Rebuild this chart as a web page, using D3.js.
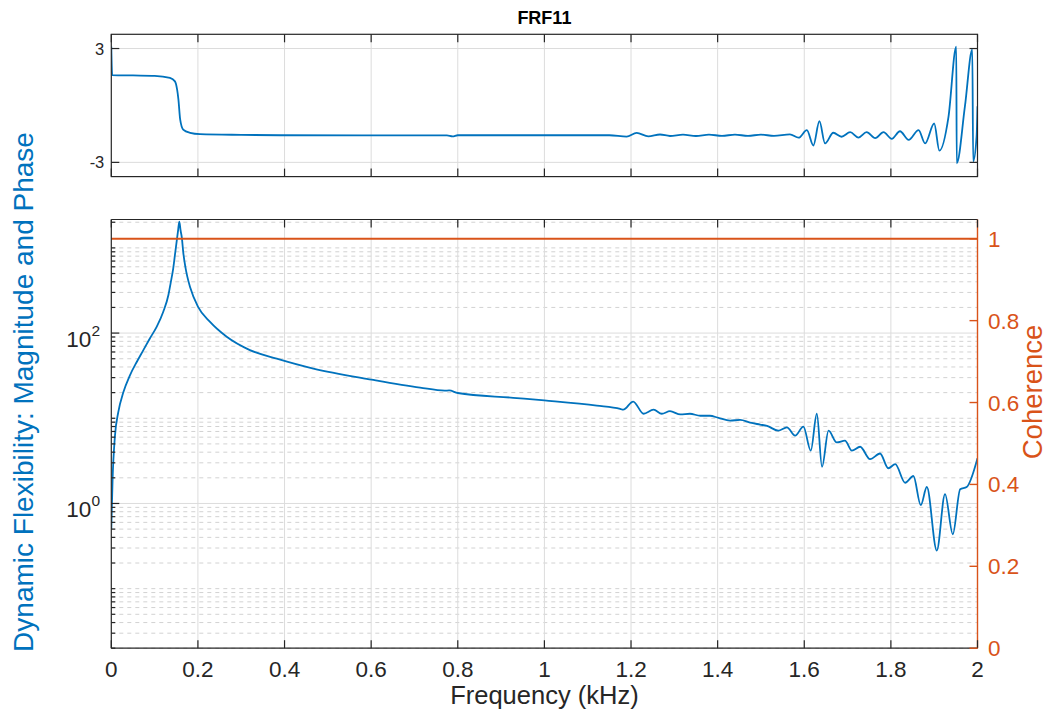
<!DOCTYPE html>
<html>
<head>
<meta charset="utf-8">
<script src="https://cdn.jsdelivr.net/npm/d3@7"></script>
<style>
  html, body { margin: 0; padding: 0; background: #fff; }
  svg { display: block; }
  text { font-family: "Liberation Sans", Arial, Helvetica, sans-serif; }
</style>
</head>
<body>
<svg id="chart" width="1049" height="719"></svg>
<script>
// ---------------- data ----------------
const titleText = "FRF11";
const xLabelText = "Frequency (kHz)";
const yLabelLeft = "Dynamic Flexibility: Magnitude and Phase";
const yLabelRight = "Coherence";

const xTicks = [0, 0.2, 0.4, 0.6, 0.8, 1, 1.2, 1.4, 1.6, 1.8, 2];
const xTickLabels = ["0", "0.2", "0.4", "0.6", "0.8", "1", "1.2", "1.4", "1.6", "1.8", "2"];
const phaseTicks = [-3, 3];
const phaseTickLabels = ["-3", "3"];
const magMajorTicks = [1, 100];
const magTickExps = ["0", "2"];
const cohTicks = [0, 0.2, 0.4, 0.6, 0.8, 1];
const cohTickLabels = ["0", "0.2", "0.4", "0.6", "0.8", "1"];

// magnitude (dynamic flexibility)
const magFreq = [0, 0.003, 0.0085, 0.016, 0.028, 0.043, 0.0587, 0.074, 0.089, 0.105, 0.12, 0.132,
  0.137, 0.143, 0.147, 0.151, 0.154, 0.157, 0.160, 0.163, 0.166, 0.171, 0.1755, 0.182, 0.2, 0.228,
  0.2665, 0.32, 0.382, 0.4665, 0.601, 0.713, 0.77, 0.78, 0.8, 0.928, 1.0, 1.121, 1.175, 1.182, 1.205,
  1.229, 1.252, 1.271, 1.29, 1.314, 1.336, 1.36, 1.382, 1.402, 1.429, 1.452, 1.475, 1.498, 1.514,
  1.54, 1.56, 1.579, 1.598, 1.615, 1.629, 1.641, 1.656, 1.675, 1.694, 1.71, 1.729, 1.752, 1.775,
  1.794, 1.81, 1.833, 1.852, 1.869, 1.883, 1.906, 1.925, 1.943, 1.96, 1.975, 2.0];
const magVals = [0.5, 1.93, 6.25, 11.7, 20.3, 31.9, 45.8, 63.1, 86.5, 119, 178, 282,
  386, 575, 832, 1200, 1570, 2030, 1600, 1300, 900, 600, 460, 345, 204, 135,
  90.4, 63.1, 50.1, 38.3, 28.4, 22.9, 21.1, 21.2, 19.8, 17.4, 16.2, 14.1, 12.9, 12.6, 15.7,
  11.3, 12.6, 11.3, 12.1, 11.1, 11.3, 10.7, 10.7, 10.1, 9.4, 9.57, 8.89, 8.43, 8.13,
  7.16, 7.83, 6.25, 7.98, 4.16, 11.3, 2.69, 7.16, 5.21, 5.46, 4.16, 4.63, 3.31, 3.86,
  2.59, 2.89, 1.75, 2.10, 0.955, 1.56, 0.28, 1.29, 0.435, 1.47, 1.56, 3.40];

// phase (rad)
const phaseFreq = [0, 0.002, 0.05, 0.1, 0.1355, 0.147, 0.152, 0.155, 0.159, 0.166, 0.182, 0.205,
  0.3, 0.39, 0.6, 0.775, 0.788, 0.80, 1.0, 1.15, 1.19, 1.213, 1.24, 1.267, 1.29, 1.32, 1.35, 1.38,
  1.41, 1.44, 1.47, 1.50, 1.53, 1.567, 1.587, 1.606, 1.621, 1.635, 1.648, 1.667, 1.686, 1.706,
  1.725, 1.744, 1.764, 1.783, 1.802, 1.821, 1.841, 1.864, 1.879, 1.900, 1.912, 1.933, 1.951,
  1.952, 1.971, 1.988, 1.990, 1.998, 2.0];
const phaseVals = [3.1, 1.6, 1.58, 1.56, 1.45, 1.27, 0.83, 0.31, -0.74, -1.27, -1.44, -1.51,
  -1.55, -1.57, -1.58, -1.58, -1.63, -1.57, -1.57, -1.57, -1.64, -1.45, -1.63, -1.53, -1.61, -1.54, -1.61, -1.54,
  -1.60, -1.54, -1.60, -1.54, -1.60, -1.52, -1.70, -1.30, -2.11, -0.83, -2.0, -1.44, -1.65, -1.41,
  -1.70, -1.41, -1.72, -1.41, -1.76, -1.36, -1.81, -1.30, -2.0, -0.95, -2.38, -0.6, 3.1,
  -3.05, -0.04, 2.95, -2.95, -1.6, -0.04];

// coherence
const cohFreq = [0, 2];
const cohVals = [1, 1];

// ---------------- layout ----------------
const C_AX = "#262626", C_BLUE = "#0072BD", C_ORANGE = "#D95319";
const C_GRID = "#dcdcdc", C_MINOR = "#d2d2d2";
const X0 = 111.3, X1 = 977.5;
const topP = { y0: 34.3, y1: 176.6 };
const botP = { y0: 219.5, y1: 648.2 };
const TICK = 8, MINOR_TICK = 4;

const svg = d3.select("#chart");
const x = d3.scaleLinear().domain([0, 2]).range([X0, X1]);
const yPh = d3.scaleLinear().domain([-3.75, 3.75]).range([topP.y1, topP.y0]);
const yMag = d3.scaleLog().domain([0.02, 2154]).range([botP.y1, botP.y0]);
const yCoh = d3.scaleLinear().domain([0, 1.047]).range([botP.y1, botP.y0]);

// ---------- top panel (phase) ----------
const gT = svg.append("g");
gT.selectAll(".vg").data(xTicks.slice(1, -1)).join("line")
  .attr("x1", d => x(d)).attr("x2", d => x(d)).attr("y1", topP.y0).attr("y2", topP.y1)
  .attr("stroke", C_GRID).attr("stroke-width", 1);
gT.selectAll(".hg").data(phaseTicks).join("line")
  .attr("x1", X0).attr("x2", X1).attr("y1", d => yPh(d)).attr("y2", d => yPh(d))
  .attr("stroke", C_GRID).attr("stroke-width", 1);

svg.append("clipPath").attr("id", "clipT").append("rect")
  .attr("x", X0).attr("y", topP.y0).attr("width", X1 - X0).attr("height", topP.y1 - topP.y0);
gT.append("path")
  .datum(phaseFreq.map((f, i) => [f, phaseVals[i]]))
  .attr("clip-path", "url(#clipT)")
  .attr("fill", "none").attr("stroke", C_BLUE).attr("stroke-width", 1.8)
  .attr("stroke-linejoin", "round")
  .attr("d", d3.line().x(d => x(d[0])).y(d => yPh(d[1])).curve(d3.curveMonotoneX));

gT.append("rect").attr("x", X0).attr("y", topP.y0).attr("width", X1 - X0).attr("height", topP.y1 - topP.y0)
  .attr("fill", "none").attr("stroke", C_AX).attr("stroke-width", 1.2);
xTicks.forEach(t => {
  gT.append("line").attr("x1", x(t)).attr("x2", x(t)).attr("y1", topP.y1).attr("y2", topP.y1 - TICK).attr("stroke", C_AX).attr("stroke-width", 1.2);
  gT.append("line").attr("x1", x(t)).attr("x2", x(t)).attr("y1", topP.y0).attr("y2", topP.y0 + TICK).attr("stroke", C_AX).attr("stroke-width", 1.2);
});
phaseTicks.forEach((t, i) => {
  gT.append("line").attr("x1", X0).attr("x2", X0 + TICK).attr("y1", yPh(t)).attr("y2", yPh(t)).attr("stroke", C_AX).attr("stroke-width", 1.2);
  gT.append("line").attr("x1", X1).attr("x2", X1 - TICK).attr("y1", yPh(t)).attr("y2", yPh(t)).attr("stroke", C_AX).attr("stroke-width", 1.2);
  gT.append("text").attr("x", X0 - 7).attr("y", yPh(t) + 6)
    .attr("text-anchor", "end").attr("font-size", 16.5).attr("fill", C_AX).text(phaseTickLabels[i]);
});

svg.append("text").attr("x", (X0 + X1) / 2).attr("y", 24)
  .attr("text-anchor", "middle").attr("font-size", 18).attr("font-weight", "bold").attr("fill", "#000")
  .text(titleText);

// ---------- bottom panel (magnitude + coherence) ----------
const gB = svg.append("g");
const minorVals = [];
for (let e = -2; e <= 3; e++) {
  for (let m = 1; m <= 9; m++) {
    const v = m * Math.pow(10, e);
    if (v >= 0.02 && v <= 2154 && !magMajorTicks.includes(v)) minorVals.push(v);
  }
}
gB.selectAll(".mg").data(minorVals).join("line")
  .attr("x1", X0).attr("x2", X1).attr("y1", d => yMag(d)).attr("y2", d => yMag(d))
  .attr("stroke", C_MINOR).attr("stroke-width", 1).attr("stroke-dasharray", "4,4");
gB.selectAll(".vg").data(xTicks.slice(1, -1)).join("line")
  .attr("x1", d => x(d)).attr("x2", d => x(d)).attr("y1", botP.y0).attr("y2", botP.y1)
  .attr("stroke", C_GRID).attr("stroke-width", 1);
gB.selectAll(".hg").data(magMajorTicks).join("line")
  .attr("x1", X0).attr("x2", X1).attr("y1", d => yMag(d)).attr("y2", d => yMag(d))
  .attr("stroke", C_GRID).attr("stroke-width", 1);

svg.append("clipPath").attr("id", "clipB").append("rect")
  .attr("x", X0).attr("y", botP.y0).attr("width", X1 - X0).attr("height", botP.y1 - botP.y0);
gB.append("path")
  .datum(magFreq.map((f, i) => [f, magVals[i]]))
  .attr("clip-path", "url(#clipB)")
  .attr("fill", "none").attr("stroke", C_BLUE).attr("stroke-width", 1.8)
  .attr("stroke-linejoin", "round")
  .attr("d", d3.line().x(d => x(d[0])).y(d => yMag(d[1])).curve(d3.curveMonotoneX));

gB.append("path")
  .datum(cohFreq.map((f, i) => [f, cohVals[i]]))
  .attr("fill", "none").attr("stroke", C_ORANGE).attr("stroke-width", 1.8)
  .attr("d", d3.line().x(d => x(d[0])).y(d => yCoh(d[1])));

gB.append("line").attr("x1", X0).attr("x2", X1).attr("y1", botP.y0).attr("y2", botP.y0).attr("stroke", C_AX).attr("stroke-width", 1.2);
gB.append("line").attr("x1", X0).attr("x2", X1).attr("y1", botP.y1).attr("y2", botP.y1).attr("stroke", C_AX).attr("stroke-width", 1.2);
gB.append("line").attr("x1", X0).attr("x2", X0).attr("y1", botP.y0).attr("y2", botP.y1).attr("stroke", C_AX).attr("stroke-width", 1.2);
gB.append("line").attr("x1", X1).attr("x2", X1).attr("y1", botP.y0).attr("y2", botP.y1).attr("stroke", C_ORANGE).attr("stroke-width", 1.4);

xTicks.forEach((t, i) => {
  gB.append("line").attr("x1", x(t)).attr("x2", x(t)).attr("y1", botP.y1).attr("y2", botP.y1 - TICK).attr("stroke", C_AX).attr("stroke-width", 1.2);
  gB.append("line").attr("x1", x(t)).attr("x2", x(t)).attr("y1", botP.y0).attr("y2", botP.y0 + TICK).attr("stroke", C_AX).attr("stroke-width", 1.2);
  gB.append("text").attr("x", x(t)).attr("y", 677)
    .attr("text-anchor", "middle").attr("font-size", 22.5).attr("fill", C_AX).text(xTickLabels[i]);
});

minorVals.forEach(v => {
  gB.append("line").attr("x1", X0).attr("x2", X0 + MINOR_TICK).attr("y1", yMag(v)).attr("y2", yMag(v)).attr("stroke", C_AX).attr("stroke-width", 1.2);
});
magMajorTicks.forEach((v, i) => {
  gB.append("line").attr("x1", X0).attr("x2", X0 + TICK).attr("y1", yMag(v)).attr("y2", yMag(v)).attr("stroke", C_AX).attr("stroke-width", 1.2);
  const t = gB.append("text").attr("x", 100).attr("y", yMag(v) + 13.5)
    .attr("text-anchor", "end").attr("font-size", 22.5).attr("fill", C_AX);
  t.append("tspan").text("10");
  t.append("tspan").attr("dy", -11).attr("font-size", 15.5).text(magTickExps[i]);
});

cohTicks.forEach((v, i) => {
  gB.append("line").attr("x1", X1).attr("x2", X1 - TICK).attr("y1", yCoh(v)).attr("y2", yCoh(v)).attr("stroke", C_ORANGE).attr("stroke-width", 1.4);
  gB.append("text").attr("x", 988).attr("y", yCoh(v) + 8)
    .attr("text-anchor", "start").attr("font-size", 22.5).attr("fill", C_ORANGE).text(cohTickLabels[i]);
});

svg.append("text").attr("x", (X0 + X1) / 2).attr("y", 704)
  .attr("text-anchor", "middle").attr("font-size", 25.5).attr("fill", C_AX).text(xLabelText);
svg.append("text").attr("transform", "translate(33,392) rotate(-90)")
  .attr("text-anchor", "middle").attr("font-size", 28).attr("fill", C_BLUE).text(yLabelLeft);
svg.append("text").attr("transform", "translate(1042,392) rotate(-90)")
  .attr("text-anchor", "middle").attr("font-size", 27.5).attr("fill", C_ORANGE).text(yLabelRight);
</script>
</body>
</html>
